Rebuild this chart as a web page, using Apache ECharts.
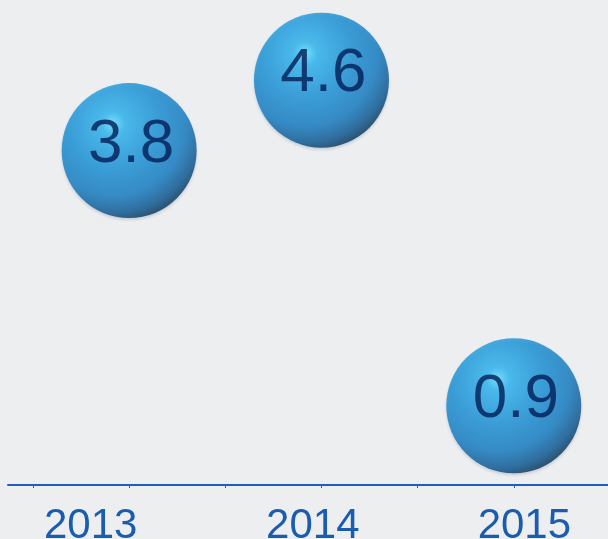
<!DOCTYPE html>
<html>
<head>
<meta charset="utf-8">
<script src="https://cdn.jsdelivr.net/npm/echarts@6/dist/echarts.min.js"></script>
<style>
  html, body { margin: 0; padding: 0; background: #edeef0; }
  #chart { width: 608px; height: 539px; }
</style>
</head>
<body>
<div id="chart"></div>
<script>
const years = ['2013', '2014', '2015'];
const values = [3.8, 4.6, 0.9];
// slots on the x axis where each year sits (every other tick)
const slots = [1, 3, 5];
const tickSlots = [0, 1, 2, 3, 4, 5];

// labels in the original sit a little off their bubbles
const labelShift = [-0.4, -0.09, 0.11];

const axisBlue = '#1f5fbf';
const labelBlue = '#1a5cb0';
const textNavy = '#031c55';

const sphere = {
  type: 'radial',
  x: 0.38,
  y: 0.3,
  r: 0.75,
  colorStops: [
    { offset: 0, color: '#5fe2ff' },
    { offset: 0.12, color: '#2ab3f0' },
    { offset: 0.42, color: '#1893d8' },
    { offset: 0.72, color: '#1179c0' },
    { offset: 0.88, color: '#0a5690' },
    { offset: 1, color: '#032b4a' },
  ],
};

const labelValues = slots.map((s, i) => +(s + labelShift[i]).toFixed(3));

const chart = echarts.init(document.getElementById('chart'));
chart.setOption({
  backgroundColor: '#edeef0',
  animation: false,
  grid: { left: 8, right: 0, top: 45, bottom: 54, outerBoundsMode: 'none' },
  xAxis: {
    type: 'value',
    min: -0.26,
    max: 5.98,
    splitLine: { show: false },
    axisLine: { show: true, lineStyle: { color: axisBlue, width: 2 } },
    axisTick: {
      show: true,
      customValues: tickSlots,
      length: 3,
      lineStyle: { color: axisBlue, width: 1 },
    },
    axisLabel: {
      customValues: labelValues,
      formatter: (v) => {
        const i = labelValues.indexOf(+v.toFixed(3));
        return i >= 0 ? years[i] : '';
      },
      color: labelBlue,
      fontFamily: 'Liberation Sans, Arial, sans-serif',
      fontSize: 42,
      margin: 20,
      showMinLabel: true,
      showMaxLabel: true,
    },
  },
  yAxis: {
    type: 'value',
    min: 0,
    max: 5,
    show: false,
  },
  series: [
    {
      type: 'scatter',
      data: slots.map((s, i) => [s, values[i]]),
      symbol: 'circle',
      symbolSize: 135,
      itemStyle: {
        color: sphere,
        shadowColor: 'rgba(0, 40, 80, 0.2)',
        shadowBlur: 3,
        shadowOffsetY: 2,
      },
      label: {
        show: true,
        position: 'inside',
        offset: [2, -6],
        formatter: (p) => p.value[1].toFixed(1),
        color: textNavy,
        fontFamily: 'Liberation Sans, Arial, sans-serif',
        fontSize: 62,
      },
    },
  ],
});
</script>
</body>
</html>
